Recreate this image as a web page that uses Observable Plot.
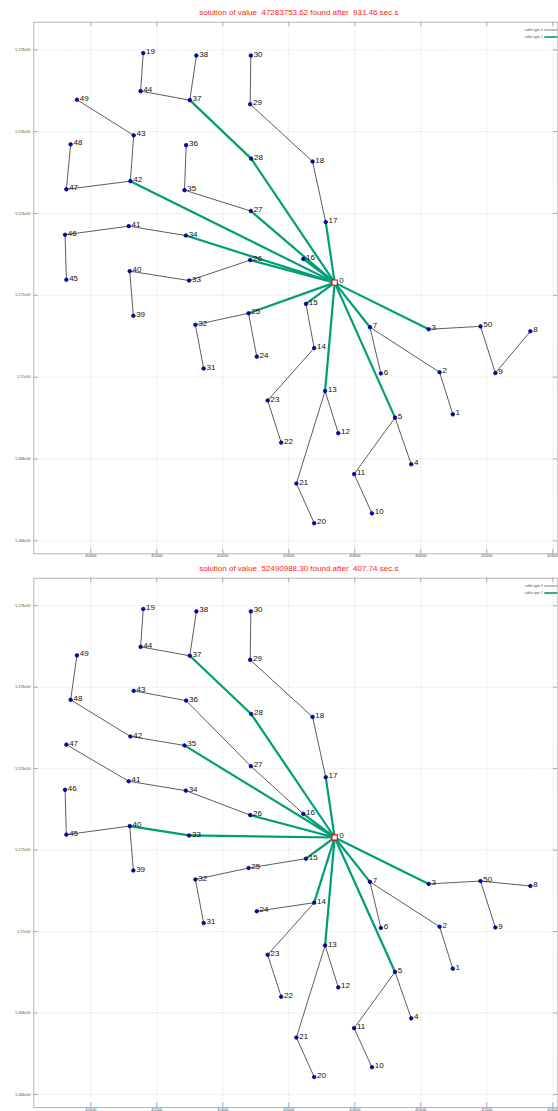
<!DOCTYPE html>
<html>
<head>
<meta charset="utf-8">
<script src="https://cdn.jsdelivr.net/npm/d3@7"></script>
<script src="https://cdn.jsdelivr.net/npm/@observablehq/plot@0.6"></script>
<style>
  html, body { margin: 0; padding: 0; background: #fff; overflow: hidden; }
  #charts svg { display: block; }
</style>
</head>
<body>
<div id="charts"></div>
<script>
// Site coordinates (easting / northing, metres); index = node id, node 0 is the substation.
const nodeX = [417390, 420970, 420570, 420240, 419710, 419220, 418790, 418460, 423320, 422260,
               418520, 417980, 417500, 417100, 416770, 416520, 416440, 417120, 416720, 411590,
               416770, 416230, 415770, 415360, 415030, 414780, 414830, 414850, 414860, 414830,
               414850, 413420, 413170, 412980, 412880, 412840, 412890, 413000, 413200, 411290,
               411180, 411150, 411200, 411300, 411510, 409260, 409220, 409260, 409390, 409580,
               421810];
const nodeY = [5172310, 5169090, 5170120, 5171170, 5167870, 5169010, 5170090, 5171220, 5171120, 5170100,
               5166670, 5167630, 5168630, 5169660, 5170710, 5171790, 5172890, 5173790, 5175270, 5177920,
               5166430, 5167400, 5168400, 5169430, 5170500, 5171560, 5172860, 5174060, 5175340, 5176670,
               5177860, 5170210, 5171280, 5172360, 5173460, 5174570, 5175670, 5176770, 5177860, 5171500,
               5172590, 5173690, 5174790, 5175910, 5176990, 5172380, 5173480, 5174590, 5175690, 5176780,
               5171240];

const titles = [
  "solution of value  47283753.62 found after  931.46 sec.s",
  "solution of value  52490988.30 found after  407.74 sec.s"
];
const cableTypes = ["cable type 0", "cable type 1"];

const xTicks = [410000, 412000, 414000, 416000, 418000, 420000, 422000, 424000];
const yTicks = [5166000, 5168000, 5170000, 5172000, 5174000, 5176000, 5178000];

// First solution: cable connections by type
const sol1Type0 = [[19, 44], [44, 37], [38, 37], [30, 29], [29, 18], [18, 17],
                   [49, 43], [43, 42], [48, 47], [47, 42], [36, 35], [35, 27],
                   [46, 41], [46, 45], [41, 34], [40, 33], [40, 39], [33, 26],
                   [32, 25], [32, 31], [24, 25], [15, 14], [14, 23], [23, 22],
                   [13, 12], [13, 21], [21, 20], [5, 4], [5, 11], [11, 10],
                   [7, 6], [7, 2], [2, 1], [3, 50], [50, 9], [9, 8]];
const sol1Type1 = [[37, 28], [28, 0], [17, 0], [42, 0], [27, 0], [16, 0], [34, 0],
                   [26, 0], [25, 0], [15, 0], [13, 0], [5, 0], [7, 0], [3, 0]];

// Second solution
const sol2Type0 = [[19, 44], [44, 37], [38, 37], [30, 29], [29, 18], [18, 17],
                   [49, 48], [48, 42], [42, 35], [43, 36], [36, 27], [27, 16],
                   [47, 41], [41, 34], [34, 26], [46, 45], [45, 40], [40, 39],
                   [32, 31], [32, 25], [25, 15], [24, 14], [14, 23], [23, 22],
                   [13, 12], [13, 21], [21, 20], [5, 4], [5, 11], [11, 10],
                   [7, 6], [7, 2], [2, 1], [3, 50], [50, 8], [50, 9]];
const sol2Type1 = [[37, 28], [28, 0], [17, 0], [35, 0], [16, 0], [26, 0], [40, 33],
                   [33, 0], [15, 0], [14, 0], [13, 0], [5, 0], [7, 0], [3, 0]];

const nodes = nodeX.map((x, i) => ({id: i, x, y: nodeY[i]}));
const links = pairs => pairs.map(([a, b]) => ({x1: nodeX[a], y1: nodeY[a], x2: nodeX[b], y2: nodeY[b]}));

const W = 558;
const ML = 33.3, MR = 0.7;
const xDomain = [408273, 424152];
const yDomain = [5165682, 5178675];
const cableColor = ["#333333", "#009e73"];
const font = "'Liberation Sans', Arial, sans-serif";

function panel(title, type0, type1, height, mt, mb) {
  const frameH = height - mt - mb;
  const frameW = W - ML - MR;
  const tk = 4.5;
  const svg = Plot.plot({
    width: W, height,
    marginLeft: ML, marginRight: MR, marginTop: mt, marginBottom: mb,
    style: {background: "transparent", overflow: "visible", fontFamily: font},
    x: {domain: xDomain, label: null},
    y: {domain: yDomain, label: null},
    marks: [
      Plot.gridX(xTicks, {stroke: "#c4c4c4", strokeOpacity: 1, strokeWidth: 0.6, strokeDasharray: "1,1.6"}),
      Plot.gridY(yTicks, {stroke: "#c4c4c4", strokeOpacity: 1, strokeWidth: 0.6, strokeDasharray: "1,1.6"}),
      Plot.frame({stroke: "#b4b4b4", strokeWidth: 1}),
      Plot.tickX(xTicks, {x: d => d, insetBottom: frameH - tk, stroke: "#aaa"}),
      Plot.tickX(xTicks, {x: d => d, insetTop: frameH - tk, stroke: "#aaa"}),
      Plot.tickY(yTicks, {y: d => d, insetRight: frameW - tk, stroke: "#aaa"}),
      Plot.tickY(yTicks, {y: d => d, insetLeft: frameW - tk, stroke: "#aaa"}),
      Plot.axisX(xTicks, {anchor: "bottom", tickSize: 0, tickPadding: 0.8, fontSize: 3.4,
                          fill: "#444", tickFormat: d => String(d)}),
      Plot.axisY(yTicks, {anchor: "left", tickSize: 0, tickPadding: 2.3, fontSize: 3.6,
                          fill: "#444", tickFormat: d => `${+(d / 1e6).toFixed(3)}x10\u2076`}),
      Plot.link(links(type0), {x1: "x1", y1: "y1", x2: "x2", y2: "y2",
                               stroke: cableColor[0], strokeWidth: 0.8}),
      Plot.link(links(type1), {x1: "x1", y1: "y1", x2: "x2", y2: "y2",
                               stroke: cableColor[1], strokeWidth: 2.2}),
      Plot.dot(nodes.filter(d => d.id > 0), {x: "x", y: "y", r: 1.8,
                               fill: "#0000dd", stroke: "#000050", strokeWidth: 0.7}),
      Plot.dot(nodes.filter(d => d.id === 0), {x: "x", y: "y", symbol: "square", r: 3,
                               fill: "white", stroke: "#ee0000", strokeWidth: 1.1}),
      Plot.text(nodes.filter(d => d.id > 0), {x: "x", y: "y", text: d => String(d.id),
                               textAnchor: "start", dx: 2.8, dy: -1.5, fontSize: 8, fill: "#111"}),
      Plot.text(nodes.filter(d => d.id === 0), {x: "x", y: "y", text: d => String(d.id),
                               textAnchor: "start", dx: 4.5, dy: -2, fontSize: 8, fill: "#111"}),
      Plot.text([title], {frameAnchor: "top", dx: 3, dy: -12.7, fontSize: 8, fill: "#ff1a1a"})
    ]
  });

  // key in the upper right corner of the frame
  const key = d3.select(svg).append("g").attr("font-family", font);
  const xr = W - MR;
  cableTypes.forEach((label, i) => {
    const y = mt + 8.3 + i * 7;
    key.append("text").attr("x", xr - 14.5).attr("y", y).attr("dy", "0.35em")
      .attr("text-anchor", "end").attr("font-size", 3.4).attr("fill", "#555").text(label);
    key.append("line").attr("x1", xr - 13).attr("x2", xr).attr("y1", y).attr("y2", y)
      .attr("stroke", i === 0 ? "#666" : cableColor[1]).attr("stroke-width", i === 0 ? 0.8 : 1.6);
  });
  return svg;
}

const host = document.getElementById("charts");
host.appendChild(panel(titles[0], sol1Type0, sol1Type1, 556, 21.7, 2.7));
host.appendChild(panel(titles[1], sol2Type0, sol2Type1, 555, 21.7, 4));
</script>
</body>
</html>
